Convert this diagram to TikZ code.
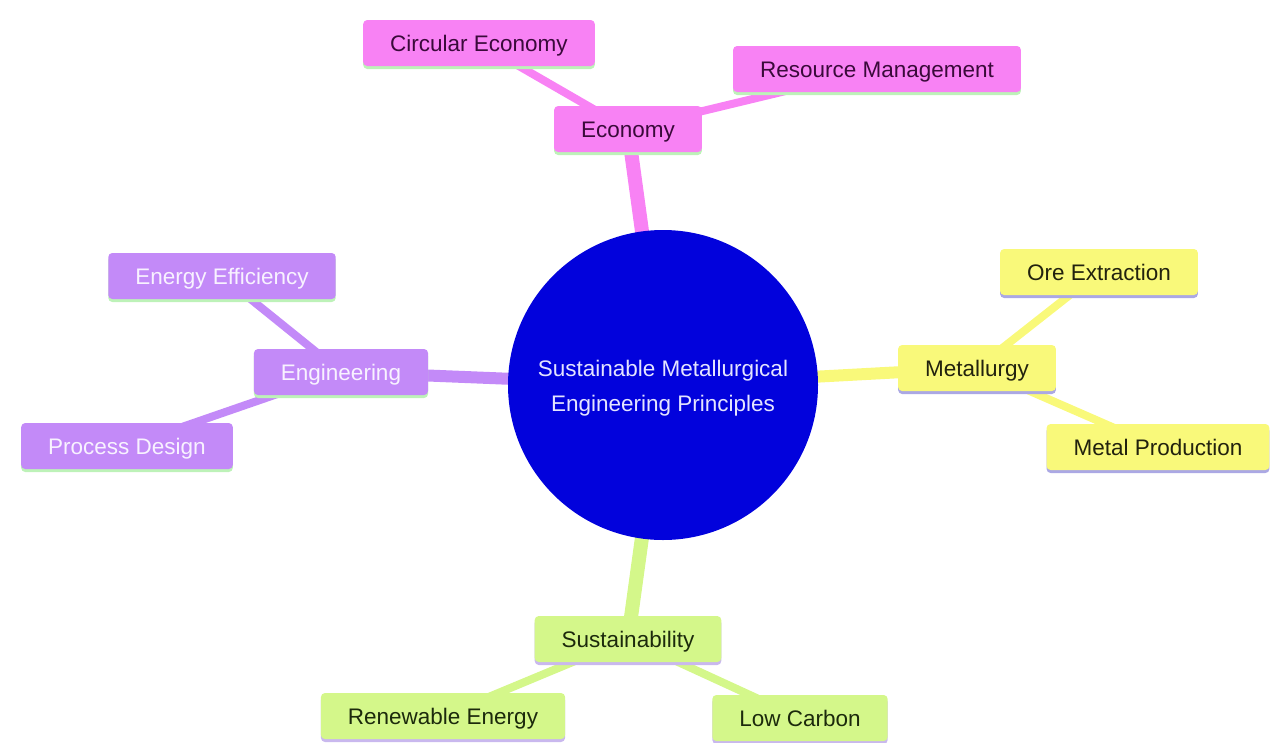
\documentclass[tikz,border=0pt]{standalone}
\usepackage{fontspec}
\setmainfont{Liberation Sans}
\usetikzlibrary{shadows,backgrounds}
\definecolor{pinkc}{HTML}{F882F4}
\definecolor{pinkt}{HTML}{3A0A3A}
\definecolor{purpc}{HTML}{C38AF8}
\definecolor{purpt}{HTML}{F8F2FF}
\definecolor{yelc}{HTML}{F9F97A}
\definecolor{yelt}{HTML}{22220E}
\definecolor{grnc}{HTML}{D4F78A}
\definecolor{grnt}{HTML}{1C2A0C}
\definecolor{shgreen}{HTML}{BDF2B8}
\definecolor{shblue}{HTML}{ABA8E4}
\definecolor{shlav}{HTML}{C9B8EE}
\definecolor{rootc}{HTML}{0202DC}
\definecolor{roott}{HTML}{E4E4FF}
\tikzset{
  box/.style={rounded corners=4pt, minimum height=46pt, inner xsep=27pt, inner ysep=0pt,
    font=\fontsize{22.5}{27}\selectfont, text height=19pt, text depth=2pt},
  pinkbox/.style={box, fill=pinkc, text=pinkt,
    drop shadow={shadow xshift=0pt, shadow yshift=-3pt, fill=shgreen, opacity=1}},
  purpbox/.style={box, fill=purpc, text=purpt,
    drop shadow={shadow xshift=0pt, shadow yshift=-3pt, fill=shgreen, opacity=1}},
  yelbox/.style={box, fill=yelc, text=yelt,
    drop shadow={shadow xshift=0pt, shadow yshift=-3pt, fill=shblue, opacity=1}},
  grnbox/.style={box, fill=grnc, text=grnt,
    drop shadow={shadow xshift=0pt, shadow yshift=-3pt, fill=shlav, opacity=1}},
  mainedge/.style={line width=12pt},
  subedge/.style={line width=8pt},
}
\begin{document}
\begin{tikzpicture}[x=1pt,y=-1pt]
\useasboundingbox (0,0) rectangle (1272,742);

\node[circle, fill=rootc, minimum size=310pt, inner sep=0pt] (root) at (663,385) {};
\node[text=roott, align=center, font=\fontsize{22.5}{35}\selectfont] (roottext) at (663,388)
  {Sustainable Metallurgical\\Engineering Principles};

\node[pinkbox] (eco) at (628,129) {Economy};
\node[pinkbox] (circ) at (479,43) {Circular Economy};
\node[pinkbox] (res) at (877,69) {Resource Management};

\node[purpbox] (eng) at (341,372) {Engineering};
\node[purpbox] (eff) at (222,276) {Energy Efficiency};
\node[purpbox] (proc) at (127,446) {Process Design};

\node[yelbox] (met) at (977,368) {Metallurgy};
\node[yelbox] (ore) at (1099,272) {Ore Extraction};
\node[yelbox] (prod) at (1158,447) {Metal Production};

\node[grnbox] (sus) at (628,639) {Sustainability};
\node[grnbox] (ren) at (443,716) {Renewable Energy};
\node[grnbox] (low) at (800,718) {Low Carbon};

\begin{scope}[on background layer]
  \draw[pinkc, line width=14pt] (root.center) -- (eco.center);
  \draw[pinkc, subedge] (eco.center) -- (circ.center);
  \draw[pinkc, subedge] (eco.center) -- (res.center);
  \draw[purpc, mainedge] (root.center) -- (eng.center);
  \draw[purpc, subedge] (eng.center) -- (eff.center);
  \draw[purpc, subedge] (eng.center) -- (proc.center);
  \draw[yelc, mainedge] (root.center) -- (met.center);
  \draw[yelc, subedge] (met.center) -- (ore.center);
  \draw[yelc, subedge] (met.center) -- (prod.center);
  \draw[grnc, line width=14pt] (root.center) -- (sus.center);
  \draw[grnc, subedge] (sus.center) -- (ren.center);
  \draw[grnc, subedge] (sus.center) -- (low.center);
\end{scope}
\end{tikzpicture}
\end{document}
